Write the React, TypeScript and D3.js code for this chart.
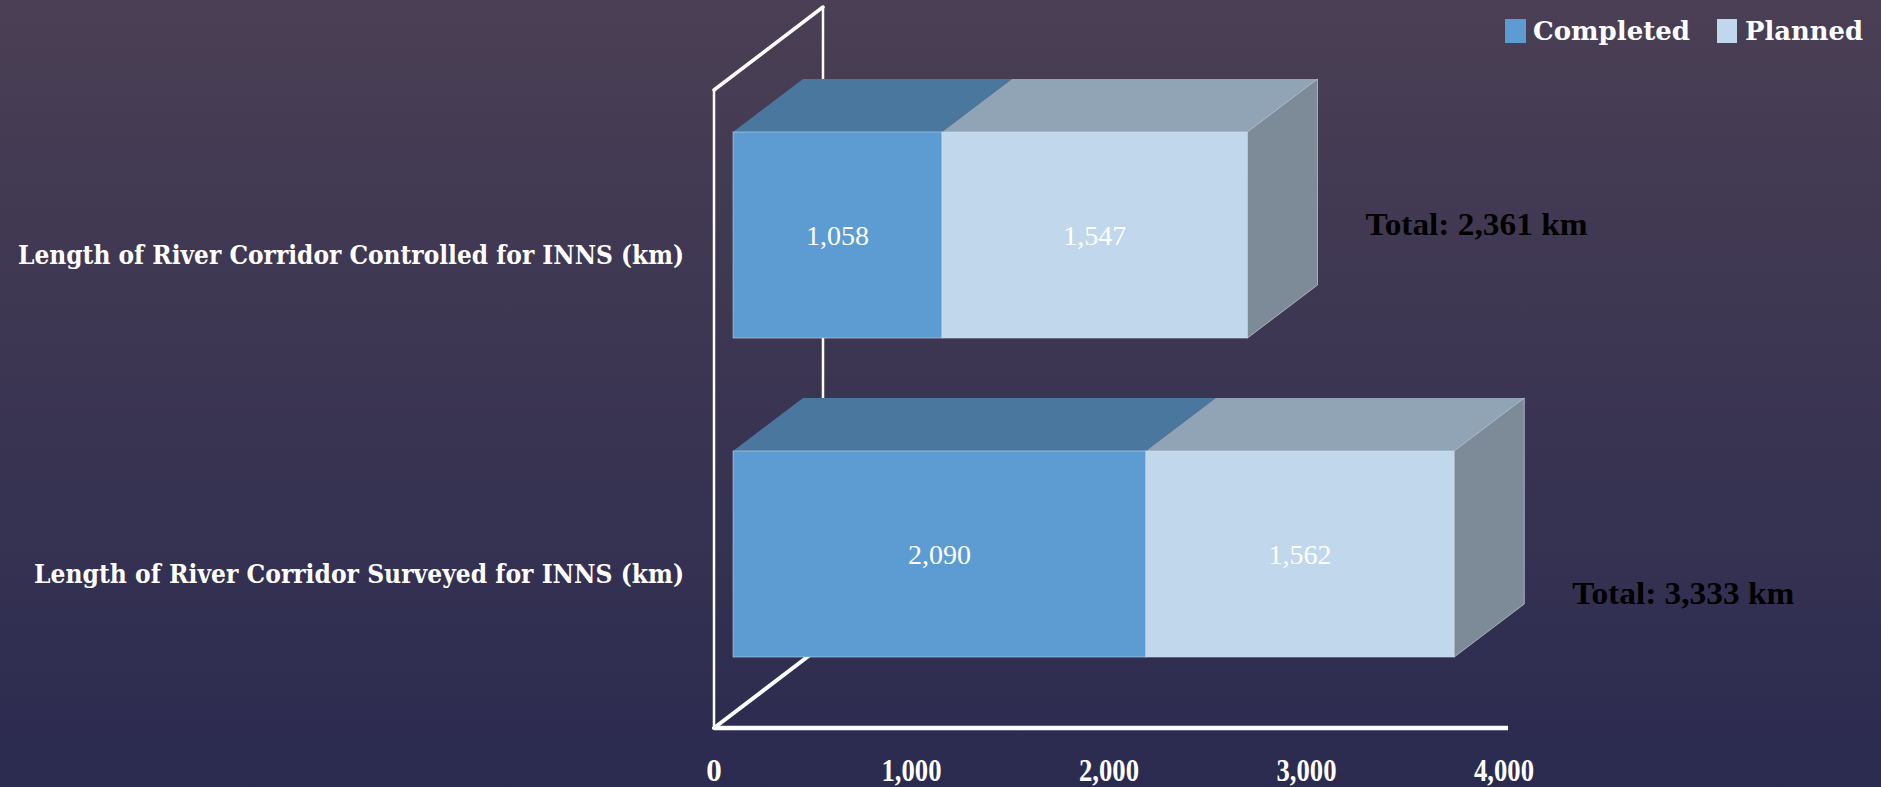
import React from "react";
import * as d3 from "d3";

const categories = [
  "Length of River Corridor Controlled for INNS (km)",
  "Length of River Corridor Surveyed for INNS (km)",
];
const completed = [1058, 2090];
const planned = [1547, 1562];
const totals = ["Total: 2,361 km", "Total: 3,333 km"];
const tickValues = [0, 1000, 2000, 3000, 4000];
const seriesNames = ["Completed", "Planned"];

const W = 1881;
const H = 787;

// layout
const plotLeft = 714;
const plotRight = 1504;
const plotTop = 90;
const plotBottom = 728;
const wallDx = 109;
const wallDy = -83;
const barOffX = 19;
const barOffY = -14.5;
const barDx = 70;
const barDy = -53;
const totalOffsetY = [-11, 39];

const colors = {
  completedFront: "#5d9cd2",
  completedTop: "#4a779e",
  plannedFront: "#c1d8ec",
  plannedTop: "#91a4b5",
  side: "#7d8b98",
};

export default function App() {
  const x = d3.scaleLinear().domain([0, 4000]).range([plotLeft, plotRight]);
  const y = d3
    .scaleBand<string>()
    .domain(categories)
    .range([plotTop, plotBottom])
    .paddingInner(0.354)
    .paddingOuter(0.177);
  const fmt = d3.format(",");

  const pts = (arr: [number, number][]) => arr.map((p) => p.join(",")).join(" ");

  const x0 = x(0);

  return (
    <svg
      width={W}
      height={H}
      style={{ position: "absolute", left: 0, top: 0, display: "block" }}
    >
      <defs>
        <linearGradient id="bg" x1="0" y1="0" x2="0" y2="1">
          <stop offset="0%" stopColor="#4a3f54" />
          <stop offset="100%" stopColor="#2b2b50" />
        </linearGradient>
      </defs>
      <rect x={0} y={0} width={W} height={H} fill="url(#bg)" />

      {/* walls */}
      <g stroke="#ffffff" fill="none" strokeLinecap="round">
        <line x1={x0} y1={plotTop} x2={x0} y2={plotBottom} strokeWidth={2.5} />
        <line x1={x0} y1={plotTop} x2={x0 + wallDx} y2={plotTop + wallDy} strokeWidth={3.5} />
        <line
          x1={x0 + wallDx}
          y1={plotTop + wallDy}
          x2={x0 + wallDx}
          y2={plotBottom + wallDy}
          strokeWidth={2.5}
        />
        <line x1={x0} y1={plotBottom} x2={x0 + wallDx} y2={plotBottom + wallDy} strokeWidth={4} />
        <line x1={x0} y1={plotBottom} x2={x(4000) + 4} y2={plotBottom} strokeWidth={4.5} strokeLinecap="butt" />
      </g>

      {/* bars */}
      {categories.map((cat, i) => {
        const yt = (y(cat) as number) + barOffY;
        const yb = yt + y.bandwidth();
        const segs = [
          { a: 0, b: completed[i], front: colors.completedFront, top: colors.completedTop },
          {
            a: completed[i],
            b: completed[i] + planned[i],
            front: colors.plannedFront,
            top: colors.plannedTop,
          },
        ];
        const xe = x(completed[i] + planned[i]) + barOffX;
        return (
          <g key={cat}>
            {segs.map((s, j) => {
              const xa = x(s.a) + barOffX;
              const xb = x(s.b) + barOffX;
              return (
                <g key={j}>
                  <polygon
                    points={pts([
                      [xa, yt],
                      [xa + barDx, yt + barDy],
                      [xb + barDx, yt + barDy],
                      [xb, yt],
                    ])}
                    fill={s.top}
                  />
                  <rect
                    x={xa}
                    y={yt}
                    width={xb - xa}
                    height={yb - yt}
                    fill={s.front}
                    stroke="rgba(210,228,244,0.5)"
                    strokeWidth={1}
                  />
                  <text
                    x={(xa + xb) / 2}
                    y={(yt + yb) / 2}
                    textAnchor="middle"
                    dominantBaseline="central"
                    fill="#ffffff"
                    fontFamily="'Liberation Serif', serif"
                    fontSize={28}
                  >
                    {fmt(s.b - s.a)}
                  </text>
                </g>
              );
            })}
            <polygon
              points={pts([
                [xe, yt],
                [xe + barDx, yt + barDy],
                [xe + barDx, yb + barDy],
                [xe, yb],
              ])}
              fill={colors.side}
              stroke="rgba(215,225,235,0.6)"
              strokeWidth={1}
            />
            <text
              x={xe + barDx + 48}
              y={(yt + yb) / 2 + totalOffsetY[i]}
              dominantBaseline="central"
              fill="#000000"
              fontFamily="'Liberation Serif', serif"
              fontWeight="bold"
              fontSize={32}
              textLength={222}
              lengthAdjust="spacingAndGlyphs"
            >
              {totals[i]}
            </text>
            <text
              x={684}
              y={(y(cat) as number) + y.bandwidth() / 2 + 5}
              textAnchor="end"
              dominantBaseline="central"
              fill="#ffffff"
              fontFamily="'DejaVu Serif', serif"
              fontWeight="bold"
              fontSize={26}
              textLength={i === 0 ? 666 : 650}
              lengthAdjust="spacingAndGlyphs"
            >
              {cat}
            </text>
          </g>
        );
      })}

      {/* x-axis tick labels */}
      {tickValues.map((t) => (
        <text
          key={t}
          x={x(t)}
          y={770}
          textAnchor="middle"
          dominantBaseline="central"
          fill="#ffffff"
          fontFamily="'Liberation Serif', serif"
          fontWeight="bold"
          fontSize={31}
          {...(t > 0 ? { textLength: 60, lengthAdjust: "spacingAndGlyphs" } : {})}
        >
          {fmt(t)}
        </text>
      ))}

      {/* legend */}
      <g>
        <rect x={1505} y={19} width={21} height={24} fill={colors.completedFront} />
        <text
          x={1533}
          y={31}
          dominantBaseline="central"
          fill="#ffffff"
          fontFamily="'DejaVu Serif', serif"
          fontWeight="bold"
          fontSize={26}
          textLength={157}
          lengthAdjust="spacingAndGlyphs"
        >
          {seriesNames[0]}
        </text>
        <rect x={1717} y={19} width={20} height={24} fill={colors.plannedFront} />
        <text
          x={1745}
          y={31}
          dominantBaseline="central"
          fill="#ffffff"
          fontFamily="'DejaVu Serif', serif"
          fontWeight="bold"
          fontSize={26}
          textLength={118}
          lengthAdjust="spacingAndGlyphs"
        >
          {seriesNames[1]}
        </text>
      </g>
    </svg>
  );
}
